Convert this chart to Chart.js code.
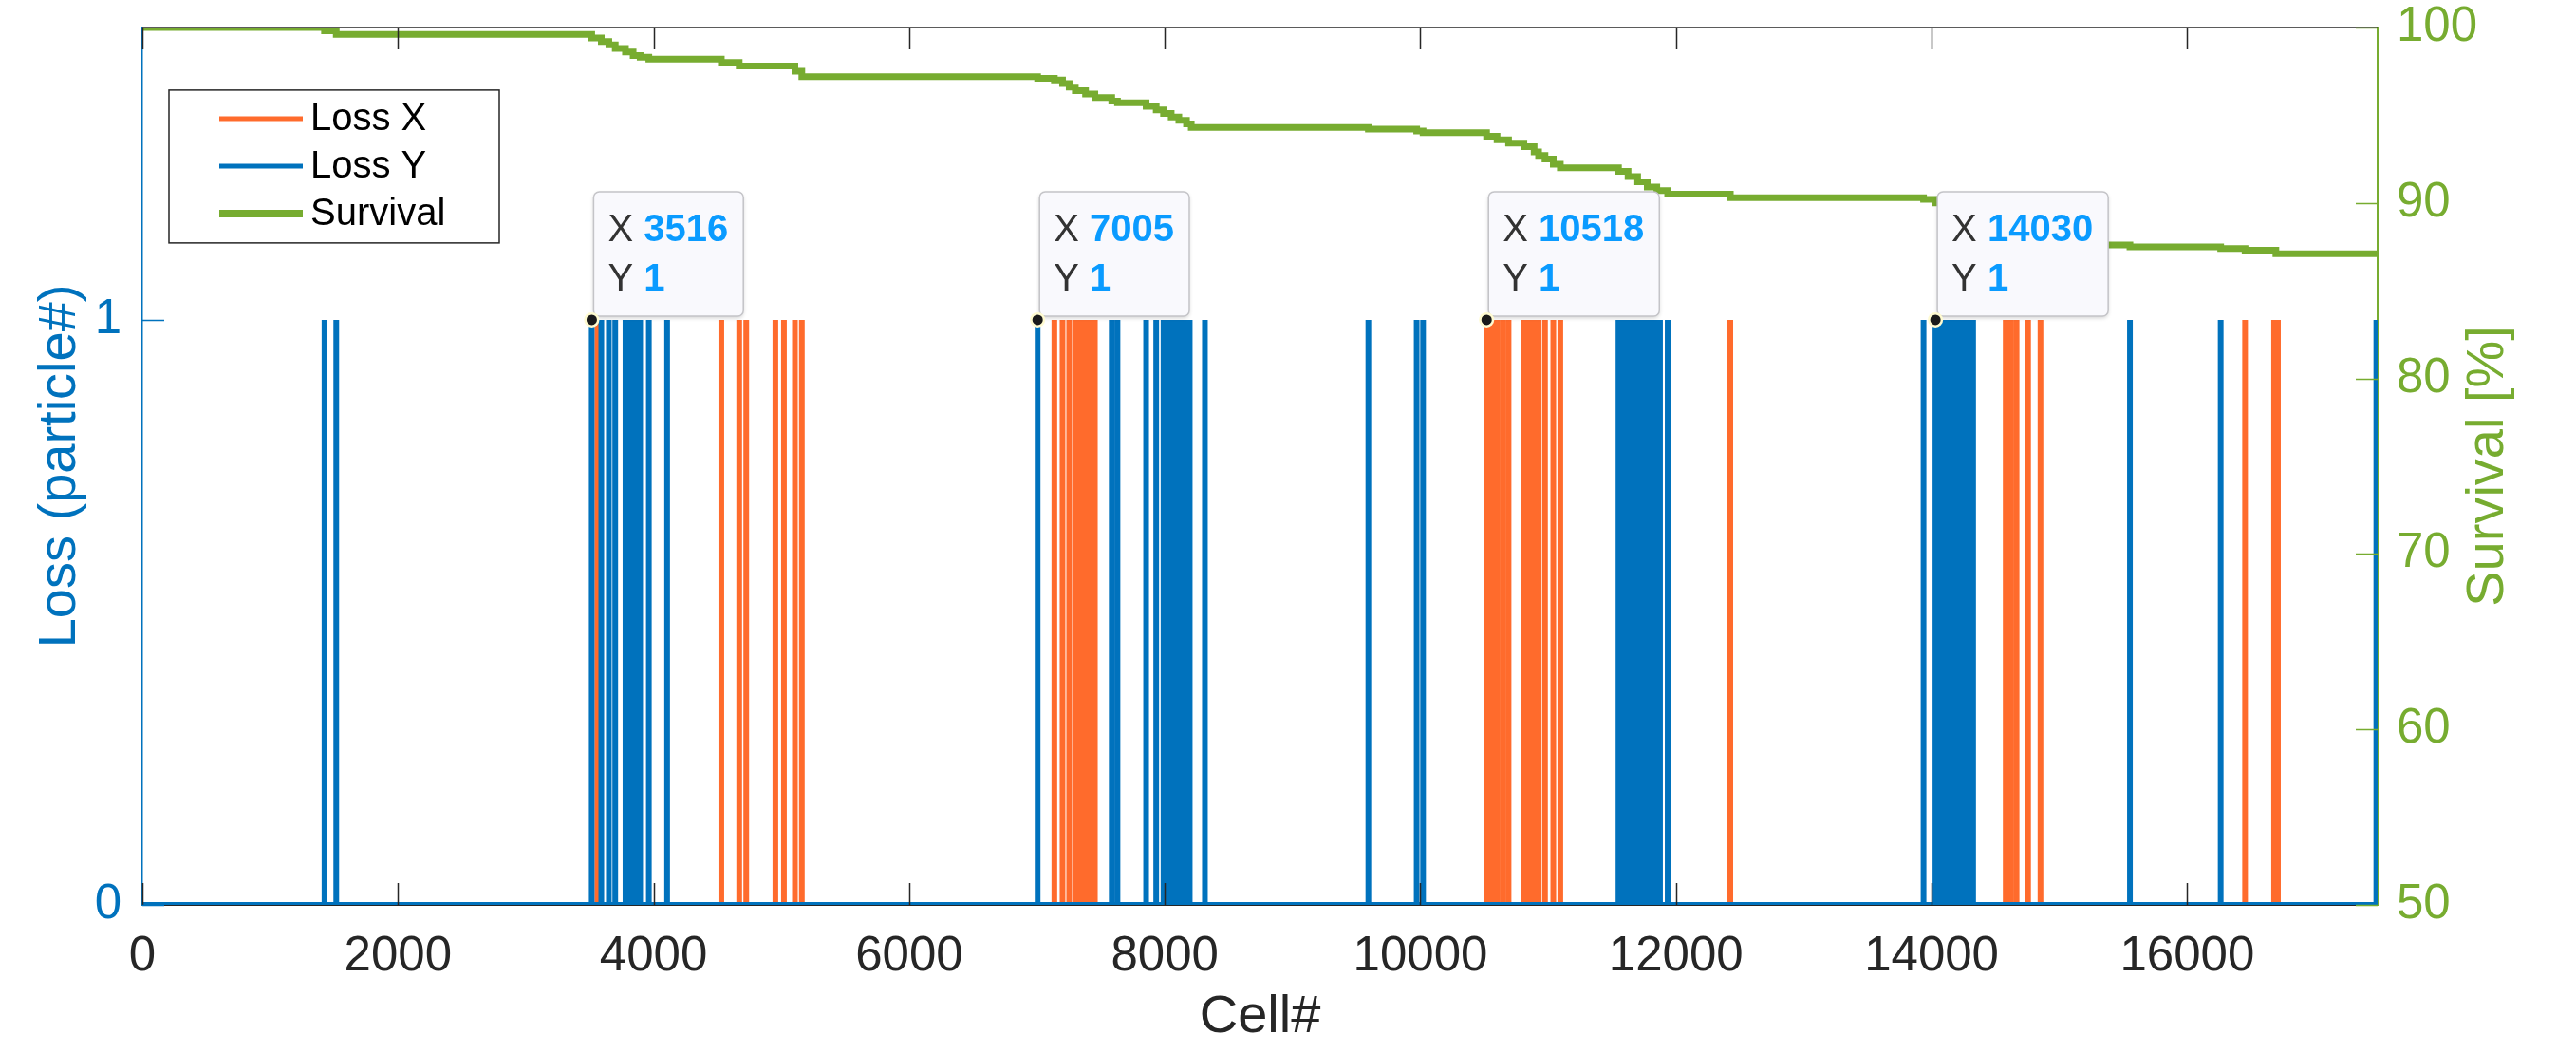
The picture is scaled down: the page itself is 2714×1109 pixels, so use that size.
<!DOCTYPE html>
<html>
<head>
<meta charset="utf-8">
<title>Loss and survival along the lattice</title>
<script src="https://cdn.jsdelivr.net/npm/chart.js@4.4.1/dist/chart.umd.min.js"></script>
<style>
  html, body { margin: 0; padding: 0; background: #fff; }
  #lossChart { display: block; }
</style>
</head>
<body>
<canvas id="lossChart" width="2714" height="1109"></canvas>
<script>
// Cells where one particle is lost, horizontal plane
const lossXCells = [3560, 4530, 4670, 4725, 4953, 5020, 5106, 5160,
    7136, 7200, 7252, 7300, 7340, 7380, 7405, 7453,
    10518, 10560, 10600, 10645, 10690, 10810, 10850, 10890, 10925, 10975, 11040, 11095,
    12425,
    14580, 14620, 14665, 14755, 14852,
    16453, 16680, 16710];

// Cells where one particle is lost, vertical plane
const lossYCells = [1425, 1517,
    3516, 3591, 3650, 3700, 3780, 3810, 3840, 3870, 3895, 3963, 4106,
    7005, 7585, 7630, 7854, 7933, 7990, 8020, 8050, 8080, 8110, 8140, 8170, 8195, 8314,
    9593, 9971, 10021,
    11550, 11575, 11600, 11625, 11650, 11675, 11700, 11725, 11750, 11775, 11800, 11825, 11850, 11875, 11935,
    13937, 14030, 14055, 14080, 14105, 14130, 14155, 14180, 14205, 14230, 14255, 14280, 14305, 14325,
    15552, 16262, 17480];

// Survival [%]: cell where it steps down, value after the step
const survivalCells = [0, 1425, 1517, 3516, 3591, 3650, 3700, 3780, 3840, 3895, 3963,
    4530, 4670, 5106, 5160,
    7005, 7136, 7200, 7252, 7300, 7380, 7453, 7585, 7630,
    7854, 7933, 7990, 8050, 8110, 8170, 8207,
    9593, 9971, 10021,
    10518, 10600, 10690, 10810, 10890, 10925, 10975, 11040, 11095,
    11550, 11625, 11700, 11775, 11850, 11935,
    12425, 13937, 14030, 14105, 14180, 14255, 14305, 14325,
    14620, 14852, 15552, 16262, 16453, 16694];
const survivalValues = [100, 99.8, 99.6, 99.4, 99.2, 99.0, 98.8, 98.6, 98.4, 98.3, 98.2,
    98.0, 97.8, 97.5, 97.2,
    97.1, 97.0, 96.8, 96.6, 96.4, 96.2, 96.0, 95.8, 95.7,
    95.5, 95.3, 95.1, 94.9, 94.7, 94.5, 94.3,
    94.2, 94.1, 94.0,
    93.8, 93.6, 93.4, 93.2, 92.9, 92.7, 92.5, 92.2, 92.0,
    91.8, 91.5, 91.2, 90.9, 90.7, 90.5,
    90.3, 90.2, 90.0, 89.5, 89.0, 88.5, 88.1, 87.9,
    87.7, 87.6, 87.5, 87.4, 87.3, 87.1];

const cellMax = 17490;
const cellTicks = [0, 2000, 4000, 6000, 8000, 10000, 12000, 14000, 16000];
const lossTicks = [0, 1];
const survivalTicks = [50, 60, 70, 80, 90, 100];

// Data tips
const tipCells = [3516, 7005, 10518, 14030];
const tipValues = [1, 1, 1, 1];

const FONT = '"Liberation Sans", Arial, Helvetica, sans-serif';
const ORANGE = '#FF6B2C';
const BLUE = '#0072BD';
const GREEN = '#77AC30';
const DARK = '#262626';

// one vertical spike per lost particle, zero elsewhere
function spikes(cells) {
    const pts = [{ x: 0, y: 0 }];
    cells.forEach(c => {
        pts.push({ x: c, y: 0 }, { x: c, y: 1 }, { x: c, y: 0 });
    });
    pts.push({ x: cellMax, y: 0 });
    return pts;
}

const survivalData = survivalCells.map((c, i) => ({ x: c, y: survivalValues[i] }));
survivalData.push({ x: cellMax, y: survivalValues[survivalValues.length - 1] });

const setTicks = values => scale => { scale.ticks = values.map(v => ({ value: v })); };

// ticks pointing into the plot, plus the top edge of the box
const boxTicks = {
    id: 'boxTicks',
    afterDatasetsDraw(chart) {
        const { ctx, chartArea: a, scales } = chart;
        const len = 23;
        ctx.save();
        ctx.lineWidth = 1.5;
        ctx.strokeStyle = DARK;
        ctx.beginPath();
        ctx.moveTo(a.left, a.top);
        ctx.lineTo(a.right, a.top);
        scales.x.ticks.forEach(t => {
            const px = Math.round(scales.x.getPixelForValue(t.value)) + 0.5;
            ctx.moveTo(px, a.bottom);
            ctx.lineTo(px, a.bottom - len);
            ctx.moveTo(px, a.top);
            ctx.lineTo(px, a.top + len);
        });
        ctx.stroke();

        ctx.strokeStyle = BLUE;
        ctx.beginPath();
        scales.y.ticks.forEach(t => {
            const py = Math.round(scales.y.getPixelForValue(t.value)) + 0.5;
            ctx.moveTo(a.left, py);
            ctx.lineTo(a.left + len, py);
        });
        ctx.stroke();

        ctx.strokeStyle = GREEN;
        ctx.beginPath();
        scales.y2.ticks.forEach(t => {
            const py = Math.round(scales.y2.getPixelForValue(t.value)) + 0.5;
            ctx.moveTo(a.right, py);
            ctx.lineTo(a.right - len, py);
        });
        ctx.stroke();
        ctx.restore();
    }
};

// boxed legend in the upper left corner of the axes
const boxLegend = {
    id: 'boxLegend',
    afterDatasetsDraw(chart) {
        const { ctx, chartArea: a } = chart;
        const left = a.left + 28, top = a.top + 66;
        const w = 348, h = 161;
        ctx.save();
        ctx.fillStyle = '#fff';
        ctx.fillRect(left, top, w, h);
        ctx.lineWidth = 1.5;
        ctx.strokeStyle = DARK;
        ctx.strokeRect(left, top, w, h);
        ctx.font = '40px ' + FONT;
        ctx.textBaseline = 'middle';
        chart.data.datasets.forEach((ds, i) => {
            const y = top + 30 + i * 50;
            ctx.strokeStyle = ds.borderColor;
            ctx.lineWidth = ds.label === 'Survival' ? 8 : 5;
            ctx.beginPath();
            ctx.moveTo(left + 53, y);
            ctx.lineTo(left + 141, y);
            ctx.stroke();
            ctx.fillStyle = '#000';
            ctx.fillText(ds.label, left + 149, y + 1);
        });
        ctx.restore();
    }
};

// MATLAB style data tips
const dataTips = {
    id: 'dataTips',
    afterDatasetsDraw(chart) {
        const { ctx, scales } = chart;
        ctx.save();
        tipCells.forEach((cell, i) => {
            const px = scales.x.getPixelForValue(cell);
            const py = scales.y.getPixelForValue(tipValues[i]);
            const rows = [['X ', String(cell)], ['Y ', String(tipValues[i])]];
            let textW = 0;
            rows.forEach(r => {
                ctx.font = '40px ' + FONT;
                const a = ctx.measureText(r[0]).width;
                ctx.font = 'bold 40px ' + FONT;
                textW = Math.max(textW, a + ctx.measureText(r[1]).width);
            });
            const bx = px + 2, bw = textW + 31, bh = 131, by = py - 4 - bh;

            ctx.save();
            ctx.shadowColor = 'rgba(0,0,0,0.18)';
            ctx.shadowBlur = 4;
            ctx.shadowOffsetY = 2;
            ctx.fillStyle = '#F9F9FD';
            ctx.beginPath();
            ctx.roundRect(bx, by, bw, bh, 6);
            ctx.fill();
            ctx.restore();
            ctx.lineWidth = 1.5;
            ctx.strokeStyle = '#C4C4C8';
            ctx.beginPath();
            ctx.roundRect(bx, by, bw, bh, 6);
            ctx.stroke();

            ctx.textBaseline = 'middle';
            rows.forEach((r, k) => {
                const ty = py - 94 + k * 52;
                ctx.font = '40px ' + FONT;
                ctx.fillStyle = '#333';
                ctx.fillText(r[0], bx + 15, ty);
                const off = ctx.measureText(r[0]).width;
                ctx.font = 'bold 40px ' + FONT;
                ctx.fillStyle = '#0A9BFF';
                ctx.fillText(r[1], bx + 15 + off, ty);
            });

            ctx.fillStyle = '#FFFBD0';
            ctx.beginPath();
            ctx.arc(px, py, 8, 0, Math.PI * 2);
            ctx.fill();
            ctx.fillStyle = '#1A1A1A';
            ctx.beginPath();
            ctx.arc(px, py, 5.5, 0, Math.PI * 2);
            ctx.fill();
        });
        ctx.restore();
    }
};

// right axis title reads bottom to top, as in the original
const rightTitle = {
    id: 'rightTitle',
    afterDraw(chart) {
        const { ctx, chartArea: a } = chart;
        ctx.save();
        ctx.translate(2622, (a.top + a.bottom) / 2);
        ctx.rotate(-Math.PI / 2);
        ctx.font = '56px ' + FONT;
        ctx.fillStyle = GREEN;
        ctx.textAlign = 'center';
        ctx.textBaseline = 'middle';
        ctx.fillText('Survival [%]', 0, 0);
        ctx.restore();
    }
};

const ctx = document.getElementById('lossChart').getContext('2d');
new Chart(ctx, {
    type: 'line',
    data: {
        datasets: [{
            label: 'Loss X',
            data: spikes(lossXCells),
            borderColor: ORANGE,
            borderWidth: 6,
            borderJoinStyle: 'bevel',
            pointRadius: 0,
            yAxisID: 'y',
            order: 3
        }, {
            label: 'Loss Y',
            data: spikes(lossYCells),
            borderColor: BLUE,
            borderWidth: 6,
            borderJoinStyle: 'bevel',
            pointRadius: 0,
            yAxisID: 'y',
            order: 2
        }, {
            label: 'Survival',
            data: survivalData,
            borderColor: GREEN,
            borderWidth: 7,
            stepped: true,
            pointRadius: 0,
            yAxisID: 'y2',
            order: 1
        }]
    },
    options: {
        responsive: false,
        animation: false,
        devicePixelRatio: 1,
        events: [],
        layout: { padding: 0 },
        plugins: {
            legend: { display: false },
            tooltip: { enabled: false }
        },
        scales: {
            x: {
                type: 'linear',
                min: 0,
                max: cellMax,
                afterFit: s => { s.height = 156; },
                afterBuildTicks: setTicks(cellTicks),
                grid: { display: false, drawTicks: false },
                border: { display: true, color: DARK, width: 2 },
                ticks: {
                    maxRotation: 0,
                    autoSkip: false,
                    padding: 24,
                    color: DARK,
                    callback: v => String(v),
                    font: { family: FONT, size: 51 }
                },
                title: {
                    display: true,
                    text: 'Cell#',
                    color: DARK,
                    padding: { top: 0, bottom: 4 },
                    font: { family: FONT, size: 56 }
                }
            },
            y: {
                type: 'linear',
                position: 'left',
                min: 0,
                max: 1.5,
                afterFit: s => { s.width = 150; },
                afterBuildTicks: setTicks(lossTicks),
                grid: { display: false, drawTicks: false },
                border: { display: true, color: BLUE, width: 1.5 },
                ticks: {
                    padding: 22,
                    color: BLUE,
                    callback: v => String(v),
                    // small line height keeps the plot top where the original has it
                    font: { family: FONT, size: 51, lineHeight: 0.27 }
                },
                title: {
                    display: true,
                    text: 'Loss (particle#)',
                    color: BLUE,
                    padding: { top: 30, bottom: 0 },
                    font: { family: FONT, size: 56 }
                }
            },
            y2: {
                type: 'linear',
                position: 'right',
                min: 50,
                max: 100,
                afterFit: s => { s.width = 209; },
                afterBuildTicks: setTicks(survivalTicks),
                grid: { display: false, drawTicks: false },
                border: { display: true, color: GREEN, width: 2 },
                ticks: {
                    padding: 20,
                    color: GREEN,
                    callback: v => String(v),
                    font: { family: FONT, size: 51, lineHeight: 0.27 }
                }
            }
        }
    },
    plugins: [boxTicks, boxLegend, dataTips, rightTitle]
});
</script>
</body>
</html>
